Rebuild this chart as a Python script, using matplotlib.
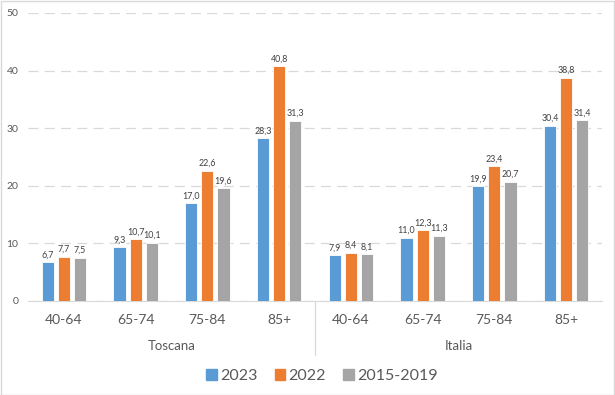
import numpy as np
import matplotlib.pyplot as plt
from matplotlib.patches import Rectangle
from matplotlib.lines import Line2D
import matplotlib.transforms as mtransforms

plt.rcParams['font.family'] = ['Lato', 'DejaVu Sans']

# data
areas = ['Toscana', 'Italia']
age_groups = ['40-64', '65-74', '75-84', '85+']
series_names = ['2023', '2022', '2015-2019']
v2023 = [6.7, 9.3, 17.0, 28.3, 7.9, 11.0, 19.9, 30.4]
v2022 = [7.7, 10.7, 22.6, 40.8, 8.4, 12.3, 23.4, 38.8]
v1519 = [7.5, 10.1, 19.6, 31.3, 8.1, 11.3, 20.7, 31.4]

colors = ['#5B9BD5', '#ED7D31', '#A5A5A5']
text_color = '#595959'

fig = plt.figure(figsize=(6.15, 3.95), dpi=100)
ax = fig.add_axes([28 / 615, 1 - 301 / 395, 574 / 615, 288 / 395])

x = np.arange(len(v2023))
width = 0.17
step = 0.225
for i, (vals, c, name) in enumerate(zip([v2023, v2022, v1519], colors, series_names)):
    bars = ax.bar(x + (i - 1) * step, vals, width, color=c, edgecolor='white',
                  linewidth=0.6, label=name, zorder=3)
    ax.bar_label(bars, labels=[f'{v:.1f}'.replace('.', ',') for v in vals],
                 padding=2, fontsize=6.4, color='#404040')

ax.set_xlim(-0.5, 7.5)
ax.set_ylim(0, 50)
ax.set_yticks(range(0, 51, 10))
ax.yaxis.grid(True, color='#D9D9D9', linestyle=(0, (8, 5)), linewidth=0.9, zorder=0)
ax.tick_params(axis='y', length=0, labelsize=7.5, labelcolor=text_color, pad=7)
ax.tick_params(axis='x', length=0, labelsize=10, labelcolor=text_color, pad=9)
ax.set_xticks(x)
ax.set_xticklabels(age_groups * 2)
for s in ['top', 'right', 'left']:
    ax.spines[s].set_visible(False)
ax.spines['bottom'].set_color('#D9D9D9')

# group labels and separator
trans = mtransforms.blended_transform_factory(ax.transData, ax.transAxes)
for k, area in enumerate(areas):
    ax.text(1.5 + 4 * k, -45 / 288, area, transform=trans, ha='center', va='center',
            fontsize=9.5, color=text_color)
ax.add_line(Line2D([3.5, 3.5], [0, -54 / 288], transform=trans, color='#D9D9D9',
                   linewidth=0.9, clip_on=False))

handles = [Rectangle((0, 0), 1, 1, color=c) for c in colors]
fig.legend(handles, series_names, loc='center', bbox_to_anchor=(322 / 615, 1 - 376 / 395),
           ncol=3, frameon=False, fontsize=11.5, handlelength=0.65, handleheight=0.65,
           handletextpad=0.2, columnspacing=1.1, labelcolor=text_color)

fig.patches.append(Rectangle((0.001, 0.001), 0.997, 0.997, transform=fig.transFigure,
                             fill=False, edgecolor='#D9D9D9', linewidth=1))

fig.savefig('out.png', dpi=100)
